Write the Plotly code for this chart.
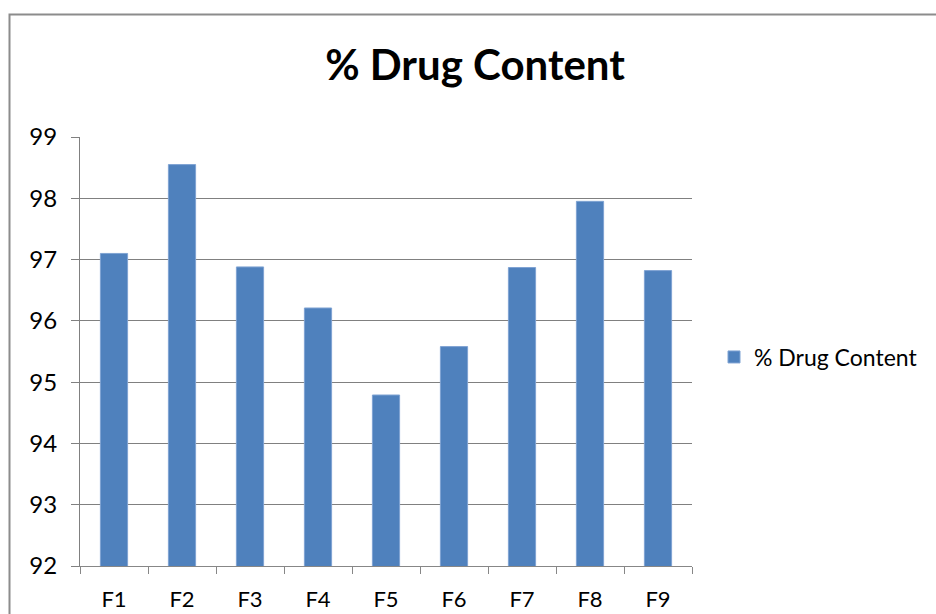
import plotly.graph_objects as go

categories = ["F1", "F2", "F3", "F4", "F5", "F6", "F7", "F8", "F9"]
drug_content = [97.10, 98.55, 96.88, 96.21, 94.79, 95.58, 96.87, 97.95, 96.82]
y_ticks = [92, 93, 94, 95, 96, 97, 98, 99]
series_name = "% Drug Content"

W, H = 936, 614
L, R, T, B = 80, 244, 137, 48
pw, ph = W - L - R, H - T - B

def px_x(p):
    return (p - L) / pw

def px_y(p):
    return (H - B - p) / ph

fig = go.Figure()
fig.add_trace(go.Bar(
    x=categories, y=drug_content, name=series_name,
    marker=dict(color="#4F81BD", line=dict(color="#7FA3D3", width=1)),
    showlegend=True,
))

fig.update_layout(
    width=W, height=H,
    margin=dict(l=L, r=R, t=T, b=B, pad=0, autoexpand=False),
    paper_bgcolor="white", plot_bgcolor="white",
    font=dict(family="Lato, 'Open Sans', sans-serif", color="black", size=23),
    bargap=0.6,
    title=dict(text="<b>% Drug Content</b>", font=dict(size=42, family="Lato, sans-serif", color="black"),
               x=475 / W, xanchor="center", xref="container",
               y=1 - 65 / H, yanchor="middle", yref="container"),
    legend=dict(x=px_x(714), xanchor="left", y=px_y(357), yanchor="middle",
                font=dict(size=23), itemwidth=30, bgcolor="rgba(0,0,0,0)"),
    xaxis=dict(
        showgrid=False, showline=True, linecolor="#878787", linewidth=1,
        ticks="outside", ticklen=7, tickcolor="#878787", tickson="boundaries",
        ticklabelstandoff=14, tickfont=dict(size=22), automargin=False,
    ),
    yaxis=dict(
        range=[92, 99], tickvals=y_ticks, showgrid=True, gridcolor="#808080", gridwidth=1,
        showline=True, linecolor="#808080", linewidth=1,
        ticks="outside", ticklen=8, tickcolor="#808080",
        ticklabelstandoff=9, tickfont=dict(size=24), zeroline=False, automargin=False,
    ),
    shapes=[dict(type="rect", xref="paper", yref="paper",
                 x0=px_x(9.5), x1=px_x(950), y0=px_y(640), y1=px_y(14.5),
                 line=dict(color="#8C8C8C", width=2), fillcolor="rgba(0,0,0,0)", layer="below")],
)

fig.write_html("out.html", config={"displayModeBar": False},
               post_script="document.body.style.margin='0';document.body.style.overflow='hidden';")
